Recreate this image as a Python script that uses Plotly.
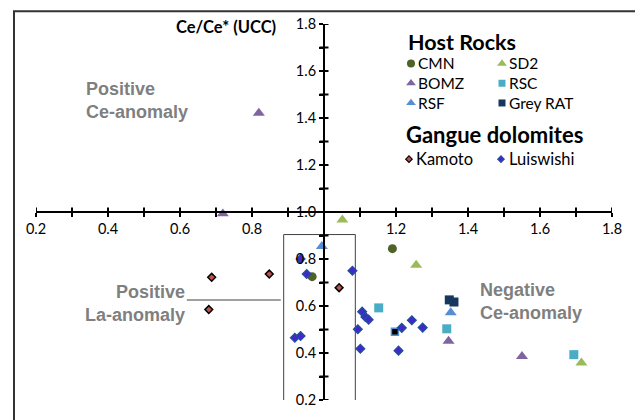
import plotly.graph_objects as go

# ---------------- data ----------------
cmn_x = [1.19, 0.967]
cmn_y = [0.844, 0.725]
sd2_x = [1.051, 1.256, 1.715]
sd2_y = [0.967, 0.774, 0.358]
bomz_x = [0.819, 0.719, 1.346, 1.55]
bomz_y = [1.421, 0.993, 0.451, 0.386]
rsc_x = [1.152, 1.341, 1.694]
rsc_y = [0.592, 0.503, 0.393]
rsf_x = [0.994, 1.352]
rsf_y = [0.854, 0.572]
rat_x = [1.348, 1.361]
rat_y = [0.626, 0.617]
rat2_x = [1.197]
rat2_y = [0.49]
kamoto_x = [0.688, 0.848, 1.042, 0.68]
kamoto_y = [0.722, 0.736, 0.678, 0.585]
luis_x = [0.935, 0.952, 1.079, 1.106, 1.115, 1.124, 1.094, 0.919, 0.935,
          1.101, 1.207, 1.244, 1.216, 1.274]
luis_y = [0.80, 0.736, 0.75, 0.576, 0.553, 0.542, 0.501, 0.465, 0.472,
          0.418, 0.41, 0.539, 0.507, 0.508]

x_ticks = [0.2, 0.4, 0.6, 0.8, 1.0, 1.2, 1.4, 1.6, 1.8]
x_ticktext = ["0.2", "0.4", "0.6", "0.8", "", "1.2", "1.4", "1.6", "1.8"]
y_ticks = [0.2, 0.4, 0.6, 0.8, 1.0, 1.2, 1.4, 1.6, 1.8]
y_ticktext = ["0.2", "0.4", "0.6", "0.8", "1.0", "1.2", "1.4", "1.6", "1.8"]

legend_col1 = ["CMN", "BOMZ", "RSF"]
legend_col2 = ["SD2", "RSC", "Grey RAT"]
legend_dolo = ["Kamoto", "Luiswishi"]

# colours
C_CMN = "#4f6228"
C_SD2 = "#9bbb59"
C_BOMZ = "#8064a2"
C_RSC = "#4bacc6"
C_RSF = "#558ed5"
C_RAT = "#17375e"
C_KAM = "#c0504d"
C_LUIS = "#4a22d0"

W, H = 635, 420
ML, MR, MT, MB = 36, 23, 24, 12
PW, PH = W - ML - MR, H - MT - MB
XR = (0.2, 1.8)
YR = (0.2, 1.8)


def dx(px):
    return XR[0] + (px - ML) / PW * (XR[1] - XR[0])


def dy(py):
    return YR[1] - (py - MT) / PH * (YR[1] - YR[0])


fig = go.Figure()


def add(x, y, sym, size, color, lcolor=None, lw=0):
    fig.add_trace(go.Scatter(
        x=x, y=y, mode="markers", showlegend=False, hoverinfo="skip",
        cliponaxis=False,
        marker=dict(symbol=sym, size=size, color=color,
                    line=dict(color=lcolor or color, width=lw))))


add(cmn_x, cmn_y, "circle", 9, C_CMN)
add(sd2_x, sd2_y, "triangle-up", 10.5, C_SD2)
add(bomz_x, bomz_y, "triangle-up", 10.5, C_BOMZ)
add(rsc_x, rsc_y, "square", 9, C_RSC)
add(rsf_x, rsf_y, "triangle-up", 10.5, C_RSF)
add(rat_x, rat_y, "square", 9, C_RAT)
add(rat2_x, rat2_y, "square", 7, "#000000", C_RSF, 1.5)
add(kamoto_x, kamoto_y, "diamond", 6, C_KAM, "#000000", 1.5)
add(luis_x, luis_y, "diamond", 6.5, C_LUIS, "#1f4e9c", 1.5)

# legend layout
LFS = 15.5
LSP = LFS * 1.3
row_c = 84.5
rows = [row_c - LSP, row_c, row_c + LSP]
leg = [
    (411, rows[0], "circle", 8, C_CMN, None, 0),
    (411, rows[1], "triangle-up", 8.5, C_BOMZ, None, 0),
    (411, rows[2], "triangle-up", 8.5, C_RSF, None, 0),
    (502, rows[0], "triangle-up", 8.5, C_SD2, None, 0),
    (502, rows[1], "square", 7, C_RSC, None, 0),
    (502, rows[2], "square", 7, C_RAT, None, 0),
    (409, 162, "diamond", 5, C_KAM, "#000000", 1.2),
    (501, 162, "diamond", 5, C_LUIS, "#1f4e9c", 1.2),
]
for px, py, sym, s, c, lc, lw in leg:
    add([dx(px)], [dy(py)], sym, s, c, lc, lw)

shapes = []
# frame
shapes.append(dict(type="rect", xref="paper", yref="paper",
                   x0=(14 - ML) / PW, x1=1.2,
                   y0=-0.2, y1=(H - MB - 11) / PH,
                   line=dict(color="#333333", width=2), layer="below"))
# box around x~1
shapes.append(dict(type="rect", xref="x", yref="y", x0=0.888, x1=1.087,
                   y0=0.1625, y1=0.904, line=dict(color="#404040", width=1),
                   layer="below"))
# leader line
shapes.append(dict(type="line", xref="x", yref="y", x0=0.619, x1=0.88,
                   y0=0.626, y1=0.626, line=dict(color="#808080", width=1.5),
                   layer="below"))
# crossing ticks (upper / right halves)
tx = (XR[1] - XR[0]) / PW * 4.5
ty = (YR[1] - YR[0]) / PH * 4.5
for i in range(17):
    v = round(0.2 + 0.1 * i, 2)
    if abs(v - 1.0) < 1e-9:
        continue
    shapes.append(dict(type="line", xref="x", yref="y", x0=v, x1=v,
                       y0=1.0 - ty, y1=1.0 + ty,
                       line=dict(color="#000000", width=2)))
    shapes.append(dict(type="line", xref="x", yref="y", x0=1.0 - tx, x1=1.0 + tx,
                       y0=v, y1=v, line=dict(color="#000000", width=2)))

ann = []
BOLD = "Lato"
GRAY = "#7f7f7f"
ann.append(dict(x=dx(278), y=dy(27), text="<b>Ce/Ce* (UCC)</b>", xanchor="right",
                font=dict(family=BOLD, size=16.5, color="#000")))
ann.append(dict(x=dx(615), y=dy(198), text="<b>Pr/Pr* (UCC)</b>", xanchor="right",
                font=dict(family=BOLD, size=16.5, color="#000")))
ann.append(dict(x=dx(84), y=dy(102.5), text="<b>Positive<br>Ce-anomaly</b>",
                xanchor="left", align="left",
                font=dict(family="Liberation Sans", size=18, color=GRAY)))
ann.append(dict(x=dx(187), y=dy(309), text="<b>Positive<br>La-anomaly</b>",
                xanchor="right", align="right",
                font=dict(family="Liberation Sans", size=18, color=GRAY)))
ann.append(dict(x=dx(478), y=dy(307.5), text="<b>Negative<br>Ce-anomaly</b>",
                xanchor="left", align="left",
                font=dict(family="Liberation Sans", size=18, color=GRAY)))
ann.append(dict(x=dx(406), y=dy(42), text="<b>Host Rocks</b>", xanchor="left",
                font=dict(family=BOLD, size=21.5, color="#000")))
ann.append(dict(x=dx(404), y=dy(137), text="<b>Gangue dolomites</b>", xanchor="left",
                font=dict(family=BOLD, size=22, color="#000")))
ann.append(dict(x=dx(416), y=dy(row_c), text="<br>".join(legend_col1),
                xanchor="left", align="left",
                font=dict(family="Lato", size=LFS, color="#000")))
ann.append(dict(x=dx(507), y=dy(row_c), text="<br>".join(legend_col2),
                xanchor="left", align="left",
                font=dict(family="Lato", size=LFS, color="#000")))
ann.append(dict(x=dx(414), y=dy(162), text=legend_dolo[0], xanchor="left",
                font=dict(family="Lato", size=LFS + 1, color="#000")))
ann.append(dict(x=dx(507), y=dy(162), text=legend_dolo[1], xanchor="left",
                font=dict(family="Lato", size=LFS + 1, color="#000")))
for a in ann:
    a.update(xref="x", yref="y", showarrow=False, yanchor="middle")

axis_common = dict(
    anchor="free", position=0.5, showgrid=False, zeroline=False,
    showline=True, linecolor="#000", linewidth=2,
    ticks="outside", ticklen=4, tickwidth=2, tickcolor="#000",
    minor=dict(ticks="outside", ticklen=4, tickwidth=2,
               tickcolor="#000", dtick=0.1, tick0=0.2),
    tickfont=dict(family="Lato", size=14.5),
)

fig.update_layout(
    width=W, height=H,
    margin=dict(l=ML, r=MR, t=MT, b=MB),
    paper_bgcolor="white", plot_bgcolor="white",
    shapes=shapes, annotations=ann,
    font=dict(family="Lato", size=14, color="#000"),
    xaxis=dict(range=list(XR), tickvals=x_ticks, ticktext=x_ticktext,
               **axis_common),
    yaxis=dict(range=list(YR), tickvals=y_ticks, ticktext=y_ticktext,
               **axis_common),
)

fig.write_html("out.html")
